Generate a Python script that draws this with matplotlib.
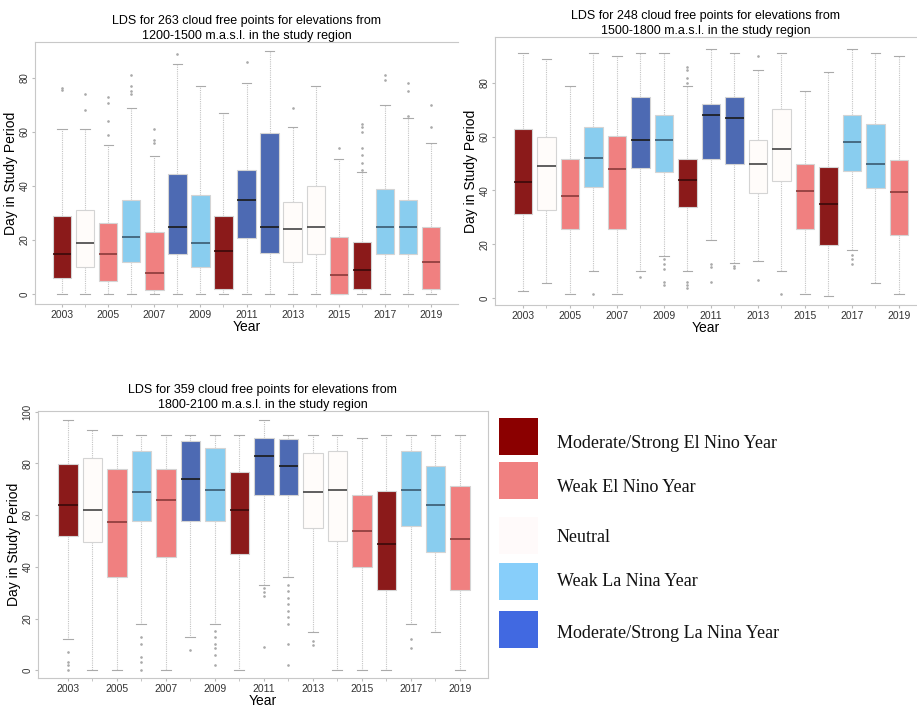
import matplotlib.pyplot as plt
from matplotlib.patches import Rectangle

plt.rcParams['font.family'] = ['Liberation Sans', 'DejaVu Sans']

years = list(range(2003, 2020))

# ENSO class per year
enso = ['mse', 'neu', 'wen', 'wln', 'wen', 'msl', 'wln', 'mse', 'msl', 'msl',
        'neu', 'neu', 'wen', 'mse', 'wln', 'wln', 'wen']

box_colors = {'mse': '#8B1A1A', 'wen': '#F08080', 'neu': '#FFFCFA',
              'wln': '#89CDEF', 'msl': '#4D6AB3'}
med_colors = {'mse': '#3a0a0a', 'wen': '#8a3a3a', 'neu': '#444444',
              'wln': '#3a5a70', 'msl': '#1a1a1a'}

legend_labels = ['Moderate/Strong El Nino Year', 'Weak El Nino Year', 'Neutral',
                 'Weak La Nina Year', 'Moderate/Strong La Nina Year']
legend_colors = ['#8B0000', '#F08080', '#FFFAFA', '#87CEFA', '#4169E1']

# 1200-1500 m.a.s.l.
p1_lo = [0] * 17
p1_q1 = [5.9, 10, 4.9, 12, 1.5, 15, 10, 2, 20.9, 15.3, 12, 15, 0, 2, 15, 15, 2]
p1_med = [14.9, 18.9, 14.9, 21, 7.8, 24.8, 18.9, 16, 34.8, 24.8, 24, 24.8, 6.9, 8.9, 24.8, 24.8, 12]
p1_q3 = [28.9, 31, 26.4, 34.8, 23, 44.4, 36.8, 28.9, 45.8, 59.5, 34, 39.9, 21, 19.3, 39, 34.8, 24.8]
p1_hi = [61, 61, 55, 69, 51, 85, 77, 67, 78, 90, 62, 77, 50, 45, 70, 65, 56]
p1_out = [[75.4, 76.3], [68, 74], [59, 64, 70.7, 72.8], [74, 75, 77, 81], [56, 57, 61],
          [89], [], [], [86], [], [69], [], [54], [46, 48.5, 51.6, 54, 60, 62, 63],
          [79.4, 81], [66, 75, 78], [62, 70]]

# 1500-1800 m.a.s.l.
p2_lo = [2.6, 5.7, 1.6, 10, 1.6, 10, 15.8, 10, 21.7, 13, 13.8, 10, 1.6, 0.9, 17.9, 5.7, 1.6]
p2_q1 = [31.4, 32.9, 25.8, 41.3, 25.8, 48.3, 46.8, 33.9, 51.7, 49.9, 39, 43.4, 25.8, 19.9, 47.4, 40.9, 23.3]
p2_med = [43.2, 49, 37.8, 52, 47.9, 58.9, 58.9, 43.8, 68, 67, 49.9, 55.6, 39.8, 34.9, 58, 49.9, 39.3]
p2_q3 = [62.9, 59.9, 51.7, 63.8, 60.3, 74.8, 68, 51.7, 72.3, 74.8, 58.9, 70.2, 49.9, 48.9, 68, 64.9, 51.2]
p2_hi = [91.2, 89, 78.9, 91.2, 90, 91.2, 91.2, 78.9, 92.8, 91.2, 84.9, 91.2, 76.9, 84.1, 92.8, 91.2, 90]
p2_out = [[], [], [], [1.6], [], [7.8], [4.7, 6, 10.8, 12.8, 14.6],
          [3.8, 4.7, 6, 80, 82, 84.7, 86], [5.8, 11.5, 12.8], [11, 11.8], [6.8, 90],
          [1.6], [], [], [12.8, 14.6, 15.9], [], []]

# 1800-2100 m.a.s.l.
p3_lo = [11.9, 0, 0, 17.9, 0, 12.9, 17.9, 0, 33, 35.9, 14.8, 0, 0, 0, 17.9, 14.8, 0]
p3_q1 = [51.9, 49.4, 35.9, 57.8, 43.9, 57.8, 57.8, 44.8, 67.9, 67.9, 54.8, 49.8, 39.9, 30.9, 55.8, 45.8, 30.9]
p3_med = [63.8, 61.9, 57.4, 68.8, 65.9, 73.9, 69.8, 61.8, 82.8, 78.8, 68.8, 69.8, 53.8, 48.8, 69.8, 63.8, 50.8]
p3_q3 = [79.6, 82.1, 77.9, 84.8, 77.9, 88.8, 85.8, 76.8, 89.8, 89.3, 83.8, 84.8, 67.9, 69.4, 84.8, 78.8, 71.3]
p3_hi = [96.6, 92.9, 90.8, 90.8, 90.8, 90.8, 90.8, 90.8, 96.6, 90.8, 90.8, 90.8, 89.8, 90.8, 90.8, 90.8, 90.8]
p3_out = [[0, 2.1, 3.1, 6.9], [], [], [0, 3.1, 5, 10, 12.9], [], [7.9],
          [1.9, 5.9, 8.8, 10, 12.9, 15], [], [8.9, 28.9, 30.4, 31.9],
          [1.9, 10, 17.9, 20.6, 23, 25.6, 28, 30.6, 33], [9.6, 11.3], [], [], [],
          [8.8, 11.9], [], []]


def draw_panel(ax, lo, q1, med, q3, hi, out, title, xlim, ylim, yticks, right_spine):
    stats = []
    for i in range(len(years)):
        stats.append({'whislo': lo[i], 'q1': q1[i], 'med': med[i], 'q3': q3[i],
                      'whishi': hi[i], 'fliers': out[i]})
    parts = ax.bxp(stats, positions=years, widths=0.8, patch_artist=True,
                   showfliers=True, manage_ticks=False,
                   whiskerprops=dict(color='#c4c4c4', linestyle=(0, (1, 1)), linewidth=0.8),
                   capprops=dict(color='#aaaaaa', linewidth=0.8),
                   flierprops=dict(marker='o', markersize=0.9, markerfacecolor='#aaaaaa',
                                   markeredgecolor='#aaaaaa'))
    for i, box in enumerate(parts['boxes']):
        box.set_facecolor(box_colors[enso[i]])
        box.set_edgecolor('#d4d4d4')
        box.set_linewidth(0.8)
        box.set_zorder(3)
    for i, m in enumerate(parts['medians']):
        m.set_color(med_colors[enso[i]])
        m.set_linewidth(1.2)
        m.set_zorder(4)
    for c in parts['caps']:
        xd = c.get_xdata()
        mid = (xd[0] + xd[1]) / 2
        c.set_xdata([mid - 0.2, mid + 0.2])

    ax.set_xlim(*xlim)
    ax.set_ylim(*ylim)
    ax.set_xticks(years[::2])
    ax.set_xticks(years[1::2], minor=True)
    ax.set_xticklabels([str(y) for y in years[::2]], fontsize=7.5, color='#333333')
    ax.set_yticks(yticks)
    ax.set_yticklabels([str(t) for t in yticks], fontsize=7, color='#333333',
                       rotation=90, va='center')
    ax.tick_params(axis='both', which='both', length=2, color='#bbbbbb', pad=2)
    ax.set_xlabel('Year', fontsize=10, labelpad=0)
    ax.set_ylabel('Day in Study Period', fontsize=10, labelpad=1)
    ax.set_title(title, fontsize=9, pad=2, linespacing=1.3)
    for s in ['left', 'top', 'bottom', 'right']:
        ax.spines[s].set_color('#c8c8c8')
        ax.spines[s].set_linewidth(0.8)
    ax.spines['right'].set_visible(right_spine)


fig = plt.figure(figsize=(9.17, 7.10), dpi=100)

ax1 = fig.add_axes([0.0382, 0.5718, 0.4613, 0.369])
draw_panel(ax1, p1_lo, p1_q1, p1_med, p1_q3, p1_hi, p1_out,
           'LDS for 263 cloud free points for elevations from\n1200-1500 m.a.s.l. in the study region',
           (2001.83, 2020.17), (-3.7, 93.3), [0, 20, 40, 60, 80], False)

ax2 = fig.add_axes([0.5398, 0.5704, 0.4602, 0.3775])
draw_panel(ax2, p2_lo, p2_q1, p2_med, p2_q3, p2_hi, p2_out,
           'LDS for 248 cloud free points for elevations from\n1500-1800 m.a.s.l. in the study region',
           (2001.81, 2019.77), (-2.6, 97.1), [0, 20, 40, 60, 80], False)

ax3 = fig.add_axes([0.0414, 0.045, 0.4906, 0.3761])
draw_panel(ax3, p3_lo, p3_q1, p3_med, p3_q3, p3_hi, p3_out,
           'LDS for 359 cloud free points for elevations from\n1800-2100 m.a.s.l. in the study region',
           (2001.78, 2020.14), (-3.0, 100.2), [0, 20, 40, 60, 80, 100], True)

# legend panel (pixel coords, y down)
lax = fig.add_axes([0, 0, 1, 1], facecolor='none')
lax.set_xlim(0, 917)
lax.set_ylim(710, 0)
lax.axis('off')
patch_tops = [418, 462, 517, 563, 611]
text_ys = [444, 488, 538, 582, 633]
for i, lab in enumerate(legend_labels):
    lax.add_patch(Rectangle((499, patch_tops[i]), 39, 37, facecolor=legend_colors[i],
                            edgecolor='none'))
    lax.text(557, text_ys[i], lab, fontsize=13, family=['Liberation Serif', 'DejaVu Serif'],
             va='center', ha='left', color='#111111')

fig.savefig('out.png', dpi=100)
